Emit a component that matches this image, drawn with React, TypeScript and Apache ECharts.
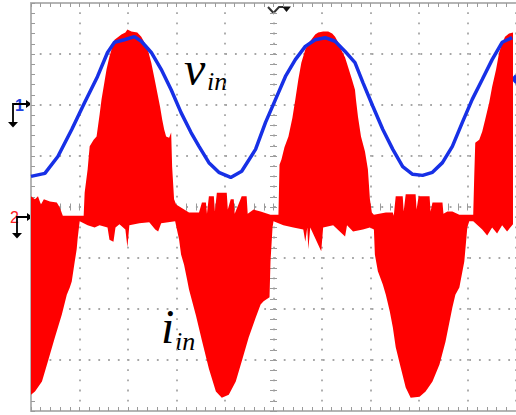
import React, { useEffect, useRef } from "react";
import * as echarts from "echarts";

// Time in ms (5 ms/div, trigger at screen centre), amplitude in screen divisions
const vinTime = [-25, -23.57, -22.23, -20.8, -19.47, -18.14, -17.11, -16.39, -15.37, -14.34, -13.63, -12.6, -11.58, -10.55, -9.53, -8.5, -7.68, -6.66, -5.64, -4.41, -3.28, -1.85, -0.82, 0.21, 1.23, 2.25, 3.28, 4.3, 5.33, 6.35, 7.38, 8.4, 9.22, 10.25, 11.27, 12.3, 13.32, 14.34, 15.37, 16.39, 17.42, 18.44, 19.47, 20.49, 21.52, 22.54, 23.57, 24.59];
const vinValue = [0.6, 0.66, 0.99, 1.52, 2.05, 2.56, 3.03, 3.23, 3.28, 3.34, 3.25, 3.03, 2.7, 2.3, 1.85, 1.46, 1.19, 0.87, 0.68, 0.58, 0.7, 1.13, 1.66, 2.11, 2.56, 2.89, 3.15, 3.28, 3.32, 3.25, 3.05, 2.83, 2.44, 1.97, 1.52, 1.13, 0.79, 0.64, 0.62, 0.68, 0.87, 1.19, 1.66, 2.11, 2.5, 2.89, 3.23, 3.32];

// Upper envelope of the switching current trace
const iinUpperTime = [-25, -24.59, -24.28, -23.98, -23.67, -23.05, -22.34, -22.03, -21.72, -20.18, -19.57, -19.47, -19.16, -18.95, -18.54, -18.24, -17.93, -17.73, -17.42, -17.21, -16.91, -16.6, -16.39, -15.98, -15.68, -15.27, -15.06, -14.65, -14.04, -13.63, -13.32, -12.91, -12.6, -12.29, -11.99, -11.68, -11.48, -11.27, -11.07, -10.76, -10.55, -10.45, -10.25,
  -10.04, -8.71, -7.68, -7.38, -6.97, -6.86, -6.66, -6.15, -6.04, -5.84, -4.82, -4.71, -4.41, -4.1, -4.0, -3.28, -2.77, -2.66, -2.05, -1.33, -0.31,
  0.51, 0.62, 0.82, 1.13, 1.54, 1.95, 2.25, 2.56, 2.87, 3.28, 3.59, 3.89, 4.3, 4.61, 5.12, 5.64, 6.05, 6.35, 6.66, 6.97, 7.38, 7.68, 8.09, 8.4, 8.5, 8.71, 9.02, 9.43, 9.73, 9.94,
  10.14, 10.35, 11.58, 12.3, 12.4, 12.6, 13.32, 13.42, 13.63, 14.65, 14.75, 14.96, 16.09, 16.19, 16.39, 17.42, 17.52, 17.93, 18.44, 19.16,
  20.59, 20.7, 20.8, 21.21, 21.52, 21.83, 22.24, 22.54, 22.95, 23.26, 23.57, 23.87, 24.28, 24.69];
const iinUpperValue = [0.21, 0.15, 0.21, 0.05, 0.15, 0.11, 0.09, -0.01, -0.17, -0.17, -0.17, 0.28, 0.74, 1.19, 1.32, 1.38, 1.81, 2.11, 2.46, 2.7, 2.95, 3.15, 3.28, 3.34, 3.38, 3.42, 3.48, 3.44, 3.42, 3.34, 3.23, 3.05, 2.83, 2.54, 2.25, 1.95, 1.72, 1.52, 1.38, 1.36, 1.46, 0.79, 0.15,
  0.05, -0.11, -0.11, 0.09, 0.09, -0.13, 0.21, 0.21, -0.09, 0.28, 0.28, -0.05, 0.15, 0.15, -0.13, 0.21, 0.21, -0.13, -0.05, -0.09, -0.15,
  -0.15, 0.83, 0.93, 1.17, 1.38, 1.75, 2.11, 2.5, 2.83, 3.09, 3.21, 3.28, 3.38, 3.42, 3.44, 3.44, 3.4, 3.34, 3.23, 3.09, 2.93, 2.75, 2.5, 2.3, 2.11, 1.77, 1.38, 1.09, 0.74, 0.15,
  -0.11, -0.15, -0.11, -0.11, -0.17, 0.21, 0.21, -0.09, 0.25, 0.25, -0.05, 0.21, 0.21, -0.09, 0.09, 0.09, -0.13, -0.09, -0.09, -0.15,
  -0.15, 0.64, 1.26, 1.32, 1.48, 1.72, 2.05, 2.36, 2.7, 3.03, 3.21, 3.34, 3.4, 3.42];

// Lower envelope of the switching current trace
const iinLowerTime = [-25, -24.59, -23.87, -23.26, -22.54, -21.82, -21.31, -21, -20.8, -20.49, -20.29, -20.18, -19.98, -19.16, -18.44, -17.93, -17.11, -16.91, -16.5, -16.29, -15.88, -15.27, -15.06, -14.86, -13.83, -12.81, -12.19, -11.89, -11.58, -10.14, -9.73, -9.53, -9.22, -8.91, -8.71, -7.99, -7.38, -6.66, -5.94, -5.33, -4.61, -3.89, -3.28, -2.56, -1.84, -1.33, -1.02, -0.41, -0.31, -0.1, 0, 1.02, 2.05, 3.07, 3.28, 3.48, 3.59, 3.79, 4.92, 5.12, 6.15, 7.38, 7.58, 8.2, 9.22, 9.94, 10.35, 10.45, 10.76, 11.27, 11.58, 11.99, 12.3, 12.6, 13.12, 13.63, 14.14, 15.06, 15.68, 16.39, 17.11, 17.73, 18.44, 18.75, 19.16, 19.67, 19.98, 20.18, 20.59, 21.52, 22.03, 22.54, 23.05, 23.57, 24.08, 24.69];
const iinLowerValue = [-3.68, -3.62, -3.42, -3.03, -2.56, -2.11, -1.72, -1.58, -1.46, -1.07, -0.83, -0.6, -0.28, -0.36, -0.4, -0.36, -0.4, -0.64, -0.68, -0.4, -0.34, -0.44, -0.79, -0.36, -0.32, -0.3, -0.44, -0.48, -0.32, -0.28, -0.64, -0.93, -1.13, -1.42, -1.62, -2.13, -2.62, -3.17, -3.62, -3.74, -3.68, -3.42, -3.03, -2.56, -2.17, -1.91, -1.85, -1.77, -1.07, -0.4, -0.28, -0.36, -0.4, -0.44, -0.68, -0.4, -0.83, -0.4, -0.87, -0.4, -0.36, -0.58, -0.36, -0.48, -0.44, -0.4, -0.44, -0.93, -1.26, -1.52, -1.72, -2.05, -2.36, -2.75, -3.15, -3.54, -3.74, -3.72, -3.62, -3.42, -3.09, -2.64, -1.97, -1.72, -1.58, -1.07, -0.4, -0.28, -0.28, -0.44, -0.56, -0.4, -0.52, -0.36, -0.48, -0.34];

const BORDER = "#b4b4b4";
const TICK = "#9a9a9a";
const DOT = "#a6a6a6";

function borderX(position: "top" | "bottom") {
  return {
    type: "value", min: -25, max: 25, interval: 5, position,
    axisLine: { show: true, onZero: false, lineStyle: { color: BORDER, width: 2 } },
    axisTick: { show: true, inside: true, length: 4, lineStyle: { color: TICK } },
    minorTick: { show: true, splitNumber: 5, length: 4, lineStyle: { color: TICK } },
    axisLabel: { show: false },
    splitLine: { show: position === "bottom", lineStyle: { color: DOT, width: 1.8, type: [1.8, 8.4], dashOffset: 0.9 } },
  };
}
function centreX(inside: boolean) {
  return {
    type: "value", min: -25, max: 25, interval: 5, position: "bottom",
    axisLine: { show: false, onZero: true, onZeroAxisIndex: 0 },
    axisTick: { show: true, inside, length: 3.5, lineStyle: { color: TICK } },
    minorTick: { show: true, splitNumber: 5, length: 3.5, lineStyle: { color: TICK } },
    axisLabel: { show: false }, splitLine: { show: false },
  };
}
function centreY(inside: boolean) {
  return {
    type: "value", min: -4, max: 4, interval: 1, position: "left",
    axisLine: { show: false, onZero: true, onZeroAxisIndex: 0 },
    axisTick: { show: true, inside, length: 3.5, lineStyle: { color: TICK } },
    minorTick: { show: true, splitNumber: 5, length: 3.5, lineStyle: { color: TICK } },
    axisLabel: { show: false }, splitLine: { show: false },
  };
}

export default function App() {
  const ref = useRef<HTMLDivElement>(null);
  useEffect(() => {
    if (!ref.current) return;
    const chart = echarts.init(ref.current, null, { renderer: "svg" });
    const vinData = vinTime.map((t, i) => [t, vinValue[i]]);
    chart.setOption({
      animation: false,
      backgroundColor: "#ffffff",
      grid: { left: 31, top: 3, width: 488, height: 408 },
      xAxis: [borderX("bottom"), borderX("top"), centreX(true), centreX(false)],
      yAxis: [
        {
          type: "value", min: -4, max: 4, interval: 1, position: "left",
          axisLine: { show: true, onZero: false, lineStyle: { color: BORDER, width: 2 } },
          axisTick: { show: true, inside: true, length: 4, lineStyle: { color: TICK } },
          minorTick: { show: true, splitNumber: 5, length: 4, lineStyle: { color: TICK } },
          axisLabel: { show: false },
          splitLine: { show: true, lineStyle: { color: DOT, width: 1.8, type: [1.8, 7.96], dashOffset: 0.9 } },
        },
        centreY(true),
        centreY(false),
      ],
      series: [
        {
          type: "custom",
          coordinateSystem: "cartesian2d",
          xAxisIndex: 0,
          yAxisIndex: 0,
          clip: true,
          silent: true,
          data: [[0, 0]],
          renderItem: (_params: any, api: any) => {
            const pts: number[][] = [];
            for (let i = 0; i < iinUpperTime.length; i++) pts.push(api.coord([iinUpperTime[i], iinUpperValue[i]]));
            for (let i = iinLowerTime.length - 1; i >= 0; i--) pts.push(api.coord([iinLowerTime[i], iinLowerValue[i]]));
            return { type: "polygon", shape: { points: pts }, style: { fill: "#ff0000" } };
          },
        },
        {
          type: "line",
          xAxisIndex: 0,
          yAxisIndex: 0,
          data: vinData,
          showSymbol: false,
          silent: true,
          lineStyle: { color: "#1730e6", width: 3.5 },
        },
      ],
      graphic: [
        // channel 1 ground marker
        { type: "text", x: 15, y: 105, style: { text: "1", fill: "#2040e0", fontSize: 16, fontWeight: "bold", fontFamily: "Liberation Sans", verticalAlign: "middle", align: "left" } },
        { type: "polyline", shape: { points: [[13, 123], [13, 104], [27, 104]] }, style: { stroke: "#000", lineWidth: 1.8, fill: null } },
        { type: "polygon", shape: { points: [[26, 100], [31.5, 104], [26, 108]] }, style: { fill: "#000" } },
        { type: "polygon", shape: { points: [[8, 122], [18, 122], [13, 127.5]] }, style: { fill: "#000" } },
        // channel 2 ground marker
        { type: "text", x: 10, y: 217, style: { text: "2", fill: "#ff2020", fontSize: 16, fontFamily: "Liberation Sans", verticalAlign: "middle", align: "left" } },
        { type: "polyline", shape: { points: [[17, 234], [17, 217], [28, 217]] }, style: { stroke: "#000", lineWidth: 1.8, fill: null } },
        { type: "polygon", shape: { points: [[27, 213], [32.5, 217], [27, 221]] }, style: { fill: "#000" } },
        { type: "polygon", shape: { points: [[12, 233], [22, 233], [17, 238.5]] }, style: { fill: "#000" } },
        // trigger marker
        { type: "polyline", shape: { points: [[268, 7], [273.5, 13], [279, 7], [284, 7]] }, style: { stroke: "#333", lineWidth: 2, fill: null } },
        { type: "polygon", shape: { points: [[282, 6.5], [291, 6.5], [286.5, 12]] }, style: { fill: "#111" } },
        // cursor diamond at right edge
        { type: "polygon", shape: { points: [[517, 72], [523, 79], [517, 86], [511, 79]] }, style: { fill: "#1730e6" } },
        // labels
        { type: "text", x: 184, y: 68, style: { text: "v", fill: "#000", font: "italic 48px 'Liberation Serif'", verticalAlign: "middle", align: "left" } },
        { type: "text", x: 207, y: 81, style: { text: "in", fill: "#000", font: "italic 26px 'Liberation Serif'", verticalAlign: "middle", align: "left" } },
        { type: "text", x: 161, y: 326, style: { text: "i", fill: "#000", font: "italic 48px 'Liberation Serif'", verticalAlign: "middle", align: "left" } },
        { type: "text", x: 175, y: 341, style: { text: "in", fill: "#000", font: "italic 26px 'Liberation Serif'", verticalAlign: "middle", align: "left" } },
      ],
    });
    return () => chart.dispose();
  }, []);
  return <div ref={ref} style={{ position: "absolute", left: 0, top: 0, width: 516, height: 415, background: "#fff" }} />;
}
